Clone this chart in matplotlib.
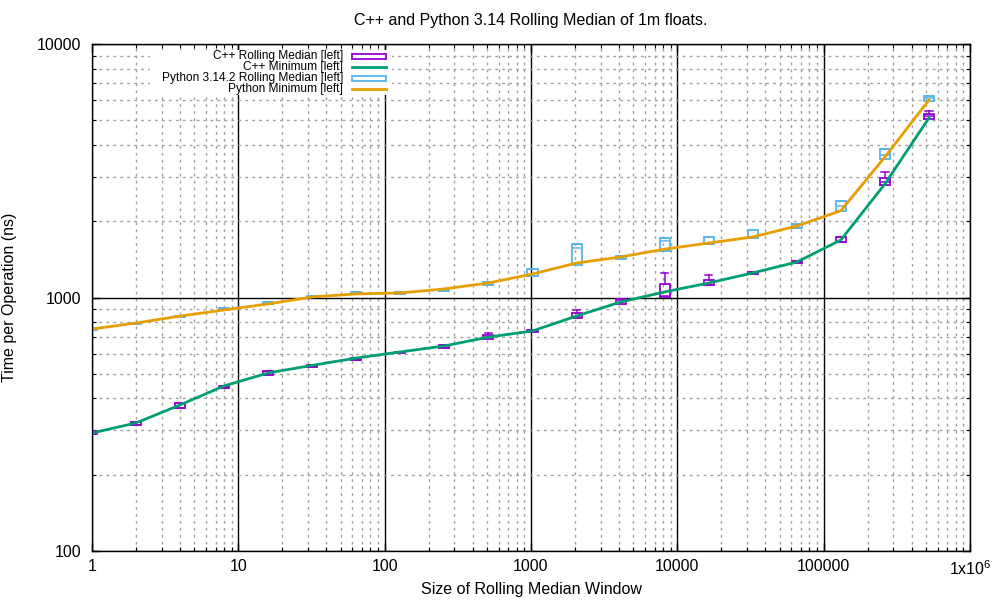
import matplotlib
matplotlib.use('Agg')
import matplotlib.pyplot as plt
from matplotlib.ticker import LogLocator, FixedLocator, FixedFormatter, NullFormatter

plt.rcParams['font.family'] = ['Liberation Sans', 'DejaVu Sans']
plt.rcParams['mathtext.fontset'] = 'custom'
plt.rcParams['mathtext.rm'] = 'Liberation Sans'

# Размер окна (степени двойки)
sizes = [2 ** i for i in range(20)]

# C++: минимум и "свечи" медианы
cpp_min = [292, 320, 377, 448, 504, 540, 577, 610, 644, 698,
           738, 845, 960, 1052, 1141, 1250, 1380, 1686, 2805, 5110]
cpp_lo = [289, 315, 367, 439, 496, 533, 568, 602, 634, 684,
          729, 827, 943, 1002, 1118, 1235, 1364, 1652, 2772, 5075]
cpp_hi = [297, 322, 384, 448, 513, 540, 577, 611, 648, 711,
          744, 866, 984, 1133, 1169, 1257, 1393, 1727, 2970, 5309]
cpp_wlo = [289, 315, 367, 439, 496, 533, 568, 602, 634, 700,
           729, 835, 975, 1014, 1118, 1235, 1364, 1652, 2850, 5200]
cpp_whi = [297, 322, 384, 448, 513, 540, 577, 611, 648, 723,
           744, 890, 984, 1249, 1223, 1257, 1393, 1727, 3119, 5427]

# Python: минимум и "свечи" медианы
py_min = [751, 793, 845, 893, 943, 1005, 1033, 1042, 1081, 1141,
          1238, 1368, 1445, 1552, 1640, 1733, 1914, 2200, 3582, 6016]
py_lo = [742, 786, 835, 893, 940, 1002, 1032, 1030, 1064, 1123,
         1219, 1340, 1423, 1526, 1622, 1713, 1880, 2188, 3508, 5973]
py_hi = [756, 795, 848, 909, 959, 1016, 1052, 1052, 1080, 1148,
         1292, 1626, 1458, 1711, 1737, 1841, 1950, 2395, 3843, 6252]
py_wlo = [742, 786, 835, 893, 940, 1002, 1032, 1030, 1064, 1123,
          1219, 1568, 1423, 1671, 1622, 1713, 1880, 2290, 3650, 6100]
py_whi = py_hi

x_ticks = [1, 10, 100, 1000, 10000, 100000, 1000000]
x_labels = ['1', '10', '100', '1000', '10000', '100000', r'1x10$^{6}$']
y_ticks = [100, 1000, 10000]
y_labels = ['100', '1000', '10000']

C_MAG = '#9400D3'
C_GRN = '#009E73'
C_BLU = '#56B4E9'
C_ORG = '#E69F00'


def draw_candles(ax, xs, lo, hi, wlo, whi, color, z):
    """Рисует коробки с усами как в gnuplot candlesticks."""
    k = 1.082  # полуширина коробки ~5 px в логарифмической шкале
    bk = 1.06
    for x, a, b, c, d in zip(xs, lo, hi, wlo, whi):
        ax.plot([x / k, x * k, x * k, x / k, x / k], [a, a, b, b, a],
                color=color, lw=1.3, zorder=z, solid_joinstyle='miter')
        if d > b:
            ax.plot([x, x], [b, d], color=color, lw=1.1, zorder=z)
        if c < a:
            ax.plot([x, x], [c, a], color=color, lw=1.1, zorder=z)
        ax.plot([x / bk, x * bk], [d, d], color=color, lw=1.1, zorder=z)
        ax.plot([x / bk, x * bk], [c, c], color=color, lw=1.1, zorder=z)


def main():
    fig = plt.figure(figsize=(10, 6), dpi=100)
    ax = fig.add_axes([0.092, 1 - 551 / 600, 0.878, 507 / 600])
    ax.set_xscale('log')
    ax.set_yscale('log')
    ax.set_xlim(1, 1e6)
    ax.set_ylim(100, 10000)

    draw_candles(ax, sizes, cpp_lo, cpp_hi, cpp_wlo, cpp_whi, C_MAG, 3)
    ax.plot(sizes, cpp_min, color=C_GRN, lw=2, zorder=4)
    draw_candles(ax, sizes, py_lo, py_hi, py_wlo, py_whi, C_BLU, 5)
    ax.plot(sizes, py_min, color=C_ORG, lw=2, zorder=6)

    ax.xaxis.set_major_locator(FixedLocator(x_ticks))
    ax.xaxis.set_major_formatter(FixedFormatter(x_labels))
    ax.yaxis.set_major_locator(FixedLocator(y_ticks))
    ax.yaxis.set_major_formatter(FixedFormatter(y_labels))
    ax.xaxis.set_minor_locator(LogLocator(base=10, subs=range(2, 10), numticks=20))
    ax.yaxis.set_minor_locator(LogLocator(base=10, subs=range(2, 10), numticks=20))
    ax.xaxis.set_minor_formatter(NullFormatter())
    ax.yaxis.set_minor_formatter(NullFormatter())

    ax.grid(True, which='major', color='black', lw=1, ls='-', zorder=1)
    ax.grid(True, which='minor', color='#a0a0a0', lw=1, ls=(0, (2, 3)), zorder=1)
    ax.set_axisbelow(True)
    ax.tick_params(which='both', direction='in', top=True, right=True, labelsize=11.5)
    ax.tick_params(which='major', length=6, width=1)
    ax.tick_params(which='minor', length=3, width=0.8)
    ax.tick_params(axis='y', which='major', pad=8)
    ax.tick_params(axis='x', which='major', pad=6)
    for s in ax.spines.values():
        s.set_linewidth(1)
        s.set_zorder(10)

    ax.set_xlabel('Size of Rolling Median Window', fontsize=11.5, labelpad=3)
    ax.set_ylabel('Time per Operation (ns)', fontsize=11.5, labelpad=14)
    fig.text(0.531, 1 - 20 / 600, 'C++ and Python 3.14 Rolling Median of 1m floats.',
             ha='center', va='center', fontsize=11.5)

    # Легенда в стиле gnuplot (непрозрачный фон поверх сетки)
    ax.add_patch(plt.Rectangle((150 / 1000, 1 - 95 / 600), 242 / 1000, 45 / 600,
                               transform=fig.transFigure, facecolor='white',
                               edgecolor='none', zorder=2))
    labels = ['C++ Rolling Median [left]', 'C++ Minimum [left]',
              'Python 3.14.2 Rolling Median [left]', 'Python Minimum [left]']
    for i, lab in enumerate(labels):
        yp = 1 - (56 + 11 * i) / 600
        fig.text(343 / 1000, yp, lab, ha='right', va='center', fontsize=8.6)
        if i % 2 == 0:
            col = C_MAG if i == 0 else C_BLU
            fig.patches.append(plt.Rectangle((352 / 1000, yp - 2.5 / 600), 34 / 1000, 5 / 600,
                                             transform=fig.transFigure, fill=False,
                                             edgecolor=col, lw=1.3))
        else:
            col = C_GRN if i == 1 else C_ORG
            fig.lines.append(plt.Line2D([352 / 1000, 386 / 1000], [yp, yp],
                                        transform=fig.transFigure, color=col, lw=2))

    fig.savefig('out.png', dpi=100)


if __name__ == "__main__":
    main()
